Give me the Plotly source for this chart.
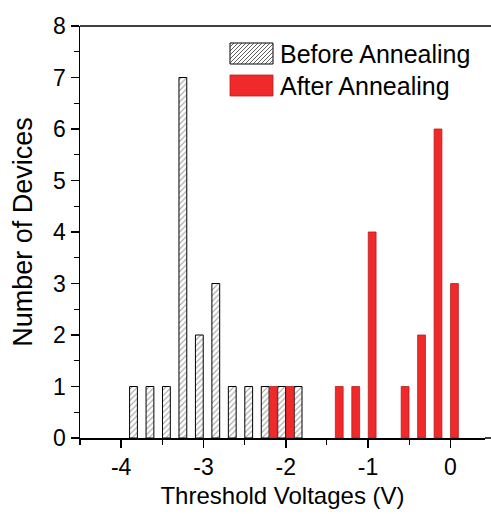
import plotly.graph_objects as go

# Data (bin centers in V, counts)
before_x = [-3.85, -3.65, -3.45, -3.25, -3.05, -2.85, -2.65, -2.45, -2.25, -2.05, -1.85]
before_y = [1, 1, 1, 7, 2, 3, 1, 1, 1, 1, 1]
after_x = [-2.15, -1.95, -1.35, -1.15, -0.95, -0.55, -0.35, -0.15, 0.05]
after_y = [1, 1, 1, 1, 4, 1, 2, 6, 3]
xtick_vals = [-4, -3, -2, -1, 0]
xtick_text = ["-4", "-3", "-2", "-1", "0"]
ytick_vals = [0, 1, 2, 3, 4, 5, 6, 7, 8]
legend_names = ["Before Annealing", "After Annealing"]

FONT = "Liberation Sans, Arial, sans-serif"
RED = "#F02A2A"
W, H = 491, 514
L, R, T, B = 80, 6, 26, 76
PX_PER_V = 82.3

fig = go.Figure()
fig.add_trace(go.Bar(
    x=before_x, y=before_y, width=0.095, name=legend_names[0], showlegend=False,
    marker=dict(color="white", line=dict(color="black", width=1),
                pattern=dict(shape="/", fgcolor="#333333", bgcolor="white", size=4, solidity=0.25)),
))
fig.add_trace(go.Bar(
    x=after_x, y=after_y, width=0.095, name=legend_names[1], showlegend=False,
    marker=dict(color=RED, line=dict(color="#B52020", width=0.8)),
))

pw = W - L - R
ph = H - T - B
def px(x):
    return (x - L) / pw
def py(y):
    return (T + ph - y) / ph

shapes = []
# top frame line, running to the right edge of the picture
shapes.append(dict(type="line", xref="paper", yref="paper", x0=0, x1=px(W + 2), y0=1, y1=1,
                   line=dict(color="black", width=1.5)))
# x axis line continued to the right edge of the picture
shapes.append(dict(type="line", xref="paper", yref="paper", x0=1, x1=px(W + 2), y0=0, y1=0,
                   line=dict(color="black", width=1.5)))
# hatched legend swatch
x0, x1, y0, y1 = 230, 273, 43, 64
shapes.append(dict(type="rect", xref="paper", yref="paper", x0=px(x0), x1=px(x1), y0=py(y1), y1=py(y0),
                   fillcolor="white", line=dict(color="black", width=1)))
step = 4
segs = []
for k in range(-(y1 - y0), (x1 - x0) + 1, step):
    t0 = max(0, -k)
    t1 = min(y1 - y0, (x1 - x0) - k)
    if t1 <= t0:
        continue
    ax, ay = x0 + k + t0, y1 - t0
    bx, by = x0 + k + t1, y1 - t1
    segs.append(f"M{px(ax)},{py(ay)} L{px(bx)},{py(by)}")
shapes.append(dict(type="path", xref="paper", yref="paper", path=" ".join(segs),
                   line=dict(color="#333333", width=0.8)))
# red legend swatch
shapes.append(dict(type="rect", xref="paper", yref="paper", x0=px(230), x1=px(273), y0=py(96), y1=py(75),
                   fillcolor=RED, line=dict(color="#B52020", width=0.8)))

annotations = [
    dict(text=legend_names[0], xref="paper", yref="paper", x=px(278), y=py(53.5), xanchor="left", yanchor="middle",
         showarrow=False, font=dict(family=FONT, size=25, color="black")),
    dict(text=legend_names[1], xref="paper", yref="paper", x=px(278), y=py(85.5), xanchor="left", yanchor="middle",
         showarrow=False, font=dict(family=FONT, size=25, color="black")),
]

fig.update_layout(
    width=W, height=H,
    margin=dict(l=L, r=R, t=T, b=B, autoexpand=False),
    paper_bgcolor="white", plot_bgcolor="white",
    barmode="overlay", bargap=0, dragmode=False,
    font=dict(family=FONT, color="black"),
    shapes=shapes, annotations=annotations,
)
fig.update_xaxes(
    range=[-4.5, -4.5 + pw / PX_PER_V], showgrid=False, zeroline=False, fixedrange=True,
    showline=True, linecolor="black", linewidth=1.5, mirror=False,
    ticks="outside", ticklen=8, tickwidth=1.5, tickcolor="black",
    tickvals=xtick_vals, ticktext=xtick_text,
    tickfont=dict(family=FONT, size=23, color="black"),
    minor=dict(dtick=0.5, tick0=0, ticks="outside", ticklen=5, tickwidth=1.2, tickcolor="black", showgrid=False),
    title=dict(text="Threshold Voltages (V)", font=dict(family=FONT, size=24, color="black"), standoff=8),
)
fig.update_yaxes(
    range=[0, 8], showgrid=False, zeroline=False, fixedrange=True,
    showline=True, linecolor="black", linewidth=1.5, mirror=False,
    ticks="outside", ticklen=8, tickwidth=1.5, tickcolor="black",
    tickvals=ytick_vals, ticklabelstandoff=0,
    tickfont=dict(family=FONT, size=23, color="black"),
    minor=dict(dtick=0.5, tick0=0, ticks="outside", ticklen=5, tickwidth=1.2, tickcolor="black", showgrid=False),
    title=dict(text="Number of Devices", font=dict(family=FONT, size=27, color="black"), standoff=12),
)

fig.write_html("out.html", config={"staticPlot": True})
